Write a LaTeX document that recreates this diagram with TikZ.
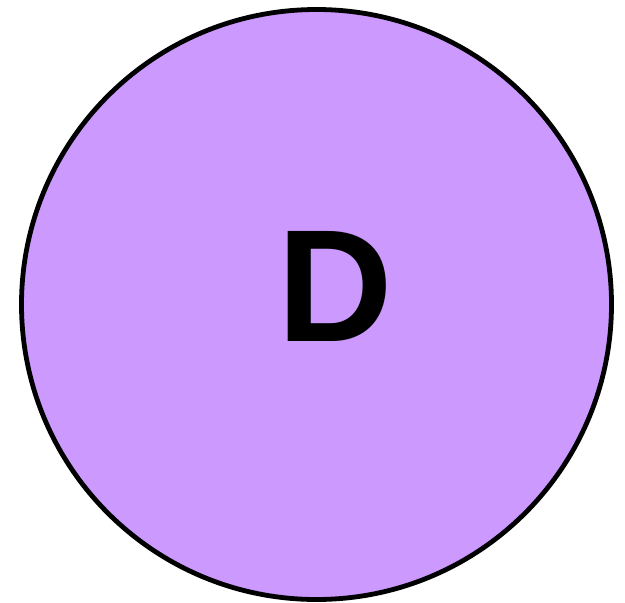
\documentclass[tikz,border=0pt]{standalone}
\usepackage{fontspec}
\setmainfont{Liberation Sans}
\definecolor{lilac}{HTML}{CC99FF}
\begin{document}
\begin{tikzpicture}[x=1pt,y=-1pt,
  bubble/.style={circle,draw=black,line width=4.8pt,fill=lilac,minimum size=590pt,inner sep=0pt},
  letter/.style={font=\fontsize{160}{160}\selectfont\bfseries,inner sep=0pt}]
\useasboundingbox (0,0) rectangle (625,603);
\node[bubble] (c) at (316.5,304.5) {};
\node[letter] (d) at (335,286) {D};
\end{tikzpicture}
\end{document}
